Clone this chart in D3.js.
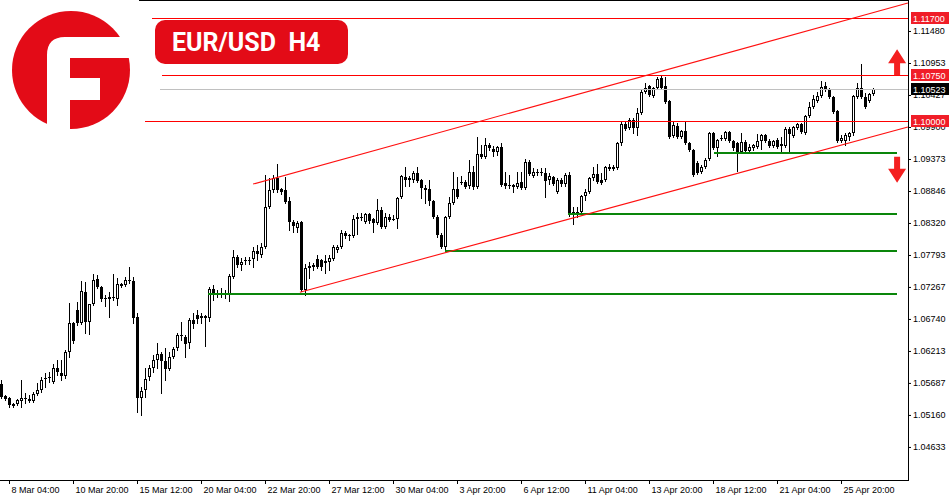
<!DOCTYPE html>
<html>
<head>
<meta charset="utf-8">
<script src="https://cdn.jsdelivr.net/npm/d3@7"></script>
<style>
  body { margin: 0; background: #fff; }
  svg { display: block; }
  .axis text { font-family: "Liberation Sans", Arial, sans-serif; font-size: 9px; fill: #000; }
</style>
</head>
<body>
<div id="chart"></div>
<script>
// EUR/USD H4, one value per bar (8 Mar -> 26 Apr)
var opens = [
  1.0567, 1.0547, 1.0544, 1.0531, 1.0534, 1.0539, 1.0542, 1.0542, 1.0539, 1.0551,
  1.0557, 1.0577, 1.0577, 1.0570, 1.0593, 1.0585, 1.0580, 1.0620, 1.0667, 1.0689,
  1.0667, 1.0718, 1.0669, 1.0699, 1.0740, 1.0727, 1.0707, 1.0707, 1.0710, 1.0707,
  1.0732, 1.0730, 1.0736, 1.0736, 1.0677, 1.0544, 1.0557, 1.0578, 1.0593, 1.0606,
  1.0616, 1.0605, 1.0592, 1.0611, 1.0626, 1.0648, 1.0644, 1.0634, 1.0672, 1.0681,
  1.0676, 1.0679, 1.0676, 1.0723, 1.0715, 1.0717, 1.0715, 1.0713, 1.0743, 1.0776,
  1.0763, 1.0769, 1.0771, 1.0773, 1.0786, 1.0779, 1.0792, 1.0858, 1.0886, 1.0906,
  1.0888, 1.0886, 1.0868, 1.0834, 1.0824, 1.0834, 1.0722, 1.0758, 1.0763, 1.0773,
  1.0771, 1.0766, 1.0768, 1.0773, 1.0787, 1.0792, 1.0815, 1.0811, 1.0811, 1.0839,
  1.0842, 1.0834, 1.0847, 1.0839, 1.0832, 1.0853, 1.0825, 1.0842, 1.0839, 1.0839,
  1.0875, 1.0908, 1.0906, 1.0903, 1.0914, 1.0903, 1.0889, 1.0888, 1.0868, 1.0842,
  1.0812, 1.0792, 1.0842, 1.0865, 1.0888, 1.0898, 1.0899, 1.0893, 1.0916, 1.0891,
  1.0946, 1.0941, 1.0960, 1.0954, 1.0949, 1.0957, 1.0898, 1.0893, 1.0894, 1.0891,
  1.0899, 1.0889, 1.0932, 1.0909, 1.0914, 1.0916, 1.0914, 1.0903, 1.0908, 1.0883,
  1.0903, 1.0896, 1.0911, 1.0850, 1.0847, 1.0850, 1.0876, 1.0883, 1.0906, 1.0913,
  1.0903, 1.0903, 1.0924, 1.0921, 1.0922, 1.0964, 1.0995, 1.0988, 1.1001, 1.0988,
  1.1013, 1.1048, 1.1057, 1.1041, 1.1054, 1.1071, 1.1057, 1.1033, 1.0975, 1.0992,
  1.0973, 1.0983, 1.0964, 1.0952, 1.0931, 1.0916, 1.0924, 1.0937, 1.0980, 1.0955,
  1.0970, 1.0970, 1.0982, 1.0967, 1.0964, 1.0949, 1.0965, 1.0950, 1.0955, 1.0957,
  1.0967, 1.0977, 1.0967, 1.0959, 1.0969, 1.0959, 1.0959, 1.0987, 1.0975, 1.0988,
  1.0995, 1.0980, 1.1008, 1.1023, 1.1033, 1.1041, 1.1057, 1.1053, 1.1039, 1.1016,
  1.0967, 1.0967, 1.0973, 1.0980, 1.1039, 1.1054, 1.1039, 1.1033, 1.1044
];
var highs = [
  1.0574, 1.0549, 1.0546, 1.0536, 1.0542, 1.0574, 1.0552, 1.0549, 1.0554, 1.0569,
  1.0578, 1.0585, 1.0587, 1.0600, 1.0606, 1.0606, 1.0623, 1.0700, 1.0669, 1.0702,
  1.0736, 1.0735, 1.0699, 1.0748, 1.0746, 1.0728, 1.0713, 1.0718, 1.0748, 1.0741,
  1.0733, 1.0743, 1.0759, 1.0743, 1.0684, 1.0562, 1.0593, 1.0598, 1.0615, 1.0634,
  1.0620, 1.0626, 1.0620, 1.0628, 1.0651, 1.0669, 1.0648, 1.0676, 1.0684, 1.0689,
  1.0684, 1.0681, 1.0727, 1.0730, 1.0722, 1.0725, 1.0722, 1.0748, 1.0787, 1.0779,
  1.0774, 1.0776, 1.0776, 1.0792, 1.0796, 1.0799, 1.0911, 1.0906, 1.0911, 1.0929,
  1.0889, 1.0908, 1.0875, 1.0837, 1.0835, 1.0835, 1.0764, 1.0768, 1.0766, 1.0779,
  1.0773, 1.0779, 1.0779, 1.0796, 1.0796, 1.0820, 1.0819, 1.0814, 1.0845, 1.0848,
  1.0848, 1.0848, 1.0848, 1.0840, 1.0871, 1.0858, 1.0848, 1.0847, 1.0845, 1.0875,
  1.0911, 1.0924, 1.0909, 1.0918, 1.0924, 1.0904, 1.0894, 1.0903, 1.0870, 1.0845,
  1.0815, 1.0843, 1.0875, 1.0916, 1.0908, 1.0909, 1.0903, 1.0936, 1.0926, 1.0973,
  1.0960, 1.0972, 1.0964, 1.0959, 1.0959, 1.0964, 1.0916, 1.0911, 1.0896, 1.0916,
  1.0916, 1.0937, 1.0936, 1.0922, 1.0921, 1.0922, 1.0922, 1.0914, 1.0909, 1.0906,
  1.0906, 1.0914, 1.0916, 1.0858, 1.0858, 1.0878, 1.0888, 1.0908, 1.0924, 1.0929,
  1.0914, 1.0926, 1.0929, 1.0927, 1.0965, 1.0998, 1.0998, 1.1005, 1.1005, 1.1021,
  1.1053, 1.1062, 1.1059, 1.1056, 1.1072, 1.1074, 1.1072, 1.1034, 1.0998, 1.0997,
  1.0985, 1.0998, 1.0965, 1.0954, 1.0934, 1.0927, 1.0939, 1.0982, 1.0982, 1.0970,
  1.0977, 1.0983, 1.0983, 1.0969, 1.0965, 1.0980, 1.0969, 1.0962, 1.0962, 1.0978,
  1.0978, 1.0978, 1.0970, 1.0969, 1.0972, 1.0973, 1.0990, 1.0990, 1.0992, 1.0997,
  1.0997, 1.1010, 1.1031, 1.1043, 1.1048, 1.1066, 1.1064, 1.1054, 1.1041, 1.1018,
  1.0977, 1.0980, 1.0982, 1.1043, 1.1062, 1.1094, 1.1046, 1.1046, 1.1054
];
var lows = [
  1.0544, 1.0541, 1.0529, 1.0529, 1.0532, 1.0529, 1.0536, 1.0537, 1.0537, 1.0549,
  1.0554, 1.0562, 1.0570, 1.0569, 1.0582, 1.0574, 1.0577, 1.0611, 1.0634, 1.0664,
  1.0666, 1.0651, 1.0649, 1.0697, 1.0725, 1.0704, 1.0695, 1.0677, 1.0705, 1.0697,
  1.0727, 1.0728, 1.0733, 1.0667, 1.0521, 1.0516, 1.0546, 1.0574, 1.0587, 1.0593,
  1.0552, 1.0574, 1.0590, 1.0610, 1.0623, 1.0639, 1.0611, 1.0626, 1.0659, 1.0667,
  1.0667, 1.0629, 1.0671, 1.0705, 1.0710, 1.0710, 1.0708, 1.0704, 1.0741, 1.0759,
  1.0755, 1.0764, 1.0764, 1.0759, 1.0771, 1.0776, 1.0791, 1.0857, 1.0883, 1.0883,
  1.0880, 1.0865, 1.0820, 1.0817, 1.0817, 1.0720, 1.0713, 1.0741, 1.0755, 1.0758,
  1.0755, 1.0750, 1.0755, 1.0771, 1.0784, 1.0791, 1.0807, 1.0804, 1.0809, 1.0814,
  1.0837, 1.0832, 1.0832, 1.0817, 1.0830, 1.0824, 1.0824, 1.0835, 1.0837, 1.0824,
  1.0873, 1.0893, 1.0893, 1.0899, 1.0899, 1.0873, 1.0865, 1.0862, 1.0840, 1.0809,
  1.0791, 1.0786, 1.0840, 1.0863, 1.0873, 1.0896, 1.0889, 1.0889, 1.0888, 1.0889,
  1.0939, 1.0939, 1.0952, 1.0942, 1.0944, 1.0893, 1.0889, 1.0889, 1.0883, 1.0889,
  1.0888, 1.0888, 1.0911, 1.0908, 1.0911, 1.0911, 1.0875, 1.0896, 1.0894, 1.0881,
  1.0893, 1.0893, 1.0843, 1.0830, 1.0842, 1.0847, 1.0870, 1.0881, 1.0903, 1.0898,
  1.0896, 1.0901, 1.0919, 1.0919, 1.0921, 1.0960, 1.0985, 1.0987, 1.0980, 1.0977,
  1.1011, 1.1046, 1.1041, 1.1039, 1.1053, 1.1053, 1.1029, 1.0972, 1.0973, 1.0972,
  1.0972, 1.0962, 1.0950, 1.0909, 1.0913, 1.0914, 1.0922, 1.0936, 1.0954, 1.0942,
  1.0969, 1.0969, 1.0965, 1.0952, 1.0918, 1.0947, 1.0949, 1.0949, 1.0952, 1.0955,
  1.0954, 1.0965, 1.0957, 1.0957, 1.0955, 1.0947, 1.0957, 1.0947, 1.0973, 1.0987,
  1.0980, 1.0978, 1.1006, 1.1021, 1.1031, 1.1039, 1.1049, 1.1038, 1.1013, 1.0965,
  1.0965, 1.0960, 1.0969, 1.0977, 1.1038, 1.1038, 1.1021, 1.1031, 1.1043
];
var closes = [
  1.0546, 1.0542, 1.0532, 1.0534, 1.0541, 1.0544, 1.0544, 1.0539, 1.0551, 1.0557,
  1.0574, 1.0575, 1.0578, 1.0593, 1.0587, 1.0580, 1.0620, 1.0667, 1.0638, 1.0667,
  1.0720, 1.0669, 1.0699, 1.0738, 1.0727, 1.0707, 1.0708, 1.0710, 1.0708, 1.0732,
  1.0728, 1.0738, 1.0738, 1.0676, 1.0544, 1.0555, 1.0575, 1.0593, 1.0606, 1.0616,
  1.0605, 1.0592, 1.0611, 1.0625, 1.0648, 1.0646, 1.0633, 1.0672, 1.0666, 1.0674,
  1.0679, 1.0676, 1.0723, 1.0715, 1.0717, 1.0715, 1.0717, 1.0745, 1.0776, 1.0763,
  1.0768, 1.0771, 1.0769, 1.0786, 1.0781, 1.0792, 1.0858, 1.0886, 1.0906, 1.0886,
  1.0883, 1.0866, 1.0834, 1.0827, 1.0832, 1.0722, 1.0758, 1.0761, 1.0759, 1.0759,
  1.0759, 1.0769, 1.0774, 1.0792, 1.0792, 1.0815, 1.0811, 1.0812, 1.0839, 1.0842,
  1.0840, 1.0847, 1.0835, 1.0832, 1.0853, 1.0825, 1.0842, 1.0837, 1.0839, 1.0873,
  1.0909, 1.0903, 1.0903, 1.0914, 1.0901, 1.0889, 1.0886, 1.0868, 1.0842, 1.0812,
  1.0792, 1.0842, 1.0865, 1.0888, 1.0875, 1.0899, 1.0891, 1.0916, 1.0891, 1.0946,
  1.0941, 1.0960, 1.0955, 1.0949, 1.0957, 1.0894, 1.0893, 1.0894, 1.0891, 1.0898,
  1.0889, 1.0932, 1.0913, 1.0916, 1.0916, 1.0914, 1.0901, 1.0909, 1.0896, 1.0903,
  1.0896, 1.0911, 1.0847, 1.0847, 1.0850, 1.0876, 1.0883, 1.0906, 1.0913, 1.0899,
  1.0898, 1.0924, 1.0921, 1.0924, 1.0964, 1.0995, 1.0987, 1.1001, 1.0988, 1.1013,
  1.1048, 1.1054, 1.1043, 1.1054, 1.1069, 1.1054, 1.1031, 1.0973, 1.0993, 1.0973,
  1.0983, 1.0964, 1.0952, 1.0911, 1.0914, 1.0924, 1.0936, 1.0980, 1.0955, 1.0969,
  1.0972, 1.0982, 1.0967, 1.0955, 1.0949, 1.0965, 1.0950, 1.0957, 1.0960, 1.0967,
  1.0977, 1.0967, 1.0959, 1.0967, 1.0957, 1.0962, 1.0987, 1.0978, 1.0990, 1.0995,
  1.0982, 1.1008, 1.1023, 1.1036, 1.1041, 1.1056, 1.1051, 1.1039, 1.1015, 1.0967,
  1.0972, 1.0977, 1.0980, 1.1041, 1.1054, 1.1039, 1.1023, 1.1044, 1.1052
];

var yTicks = [1.11480, 1.10953, 1.10427, 1.09900, 1.09373, 1.08846, 1.08320,
              1.07793, 1.07267, 1.06740, 1.06213, 1.05687, 1.05160, 1.04633];
var timeTickBars = [2, 18, 34, 50, 66, 82, 98, 114, 130, 146, 162, 178, 194, 210];
var timeTickLabels = ["8 Mar 04:00", "10 Mar 20:00", "15 Mar 12:00", "20 Mar 04:00",
  "22 Mar 20:00", "27 Mar 12:00", "30 Mar 04:00", "3 Apr 20:00", "6 Apr 12:00",
  "11 Apr 04:00", "13 Apr 20:00", "18 Apr 12:00", "21 Apr 04:00", "25 Apr 20:00"];

// horizontal levels (price, first bar)
var levelPrices = [1.11700, 1.10750, 1.10000];
var levelStartBars = [37.6, 40.1, 35.9];
var lastPrice = 1.10523;
var lastPriceStartBar = 39.6;
var supportPrices = [1.0947, 1.0846, 1.0786, 1.0715];
var supportStartBars = [178.1, 141.6, 110.9, 51.6];
var supportEndBar = 223.9;
// channel lines [bar, price]
var channelUpper = [[62.9, 1.0896], [226.6, 1.1194]];
var channelLower = [[74.6, 1.0718], [226.6, 1.0990]];
// arrows [from price, to price]
var arrowBar = 223.9;
var arrowUp = [1.1075, 1.1118];
var arrowDown = [1.0941, 1.0898];

var RED = "#e30b17";
var AXIS_X = 908, AXIS_Y = 480;

var svg = d3.select("#chart").append("svg")
    .attr("width", 950)
    .attr("height", 500);

var x = d3.scaleLinear().domain([0, 218]).range([1.5, 873.5]);
var y = d3.scaleLinear().domain([1.04089, 1.11990]).range([AXIS_Y, 0]);

var n = Math.min(opens.length, highs.length, lows.length, closes.length);
var bars = d3.range(n).map(function(i) {
    return {i: i, o: opens[i], h: highs[i], l: lows[i], c: closes[i]};
});

// candles
var candles = svg.append("g").attr("shape-rendering", "crispEdges");
candles.selectAll("g").data(bars).enter().append("g").each(function(d) {
    var g = d3.select(this);
    var cx = x(d.i);
    var yo = Math.round(y(d.o)), yc = Math.round(y(d.c));
    var top = Math.min(yo, yc), bot = Math.max(yo, yc);
    g.append("line")
        .attr("x1", cx).attr("x2", cx)
        .attr("y1", Math.round(y(d.h))).attr("y2", Math.round(y(d.l)) + 1)
        .attr("stroke", "#000");
    if (d.c >= d.o) {
        if (bot - top >= 2) {
            g.append("rect")
                .attr("x", cx - 1).attr("y", top + 0.5)
                .attr("width", 2).attr("height", bot - top - 1)
                .attr("fill", "#fff").attr("stroke", "#000");
        } else {
            g.append("rect")
                .attr("x", cx - 1.5).attr("y", top)
                .attr("width", 3).attr("height", 1)
                .attr("fill", "#000");
        }
    } else {
        g.append("rect")
            .attr("x", cx - 1.5).attr("y", top)
            .attr("width", 3).attr("height", Math.max(bot - top, 1))
            .attr("fill", "#000");
    }
});

var hLines = svg.append("g").attr("shape-rendering", "crispEdges");

// current price line
hLines.append("line")
    .attr("x1", x(lastPriceStartBar)).attr("x2", AXIS_X)
    .attr("y1", Math.round(y(lastPrice)) + 0.5).attr("y2", Math.round(y(lastPrice)) + 0.5)
    .attr("stroke", "#c0c0c0");

// red levels
levelPrices.forEach(function(p, i) {
    var yy = Math.round(y(p)) + 0.5;
    hLines.append("line")
        .attr("x1", x(levelStartBars[i])).attr("x2", AXIS_X)
        .attr("y1", yy).attr("y2", yy)
        .attr("stroke", "#ff0000");
});

// green supports
supportPrices.forEach(function(p, i) {
    var yy = Math.round(y(p));
    hLines.append("line")
        .attr("x1", x(supportStartBars[i])).attr("x2", x(supportEndBar))
        .attr("y1", yy).attr("y2", yy)
        .attr("stroke", "#0a860a").attr("stroke-width", 2);
});

// channel
[channelUpper, channelLower].forEach(function(c) {
    svg.append("line")
        .attr("x1", x(c[0][0])).attr("y1", y(c[0][1]))
        .attr("x2", x(c[1][0])).attr("y2", y(c[1][1]))
        .attr("stroke", "#ff1010").attr("stroke-width", 1.1);
});

// arrows
function arrowPoints(from, to) {
    var cx = x(arrowBar), y0 = y(from), y1 = y(to);
    var dir = y1 < y0 ? 1 : -1, hb = y1 + dir * 14;
    return [[cx - 3, y0], [cx - 3, hb], [cx - 9, hb], [cx, y1],
            [cx + 9, hb], [cx + 3, hb], [cx + 3, y0]];
}
[arrowUp, arrowDown].forEach(function(a) {
    svg.append("polygon")
        .attr("points", arrowPoints(a[0], a[1]).map(function(p) { return p.join(","); }).join(" "))
        .attr("fill", "#f42020");
});

// axes
var yAxis = d3.axisRight(y)
    .tickValues(yTicks)
    .tickSize(3)
    .tickSizeOuter(0)
    .tickPadding(2)
    .tickFormat(d3.format(".5f"));
svg.append("g")
    .attr("class", "axis")
    .attr("transform", "translate(" + AXIS_X + ",0)")
    .call(yAxis);

var xAxis = d3.axisBottom(x)
    .tickValues(timeTickBars)
    .tickSize(4)
    .tickSizeOuter(0)
    .offset(0)
    .tickFormat(function(d, i) { return timeTickLabels[i]; });
var gx = svg.append("g")
    .attr("class", "axis")
    .attr("transform", "translate(0," + AXIS_Y + ")")
    .call(xAxis);
gx.select(".domain").remove();
gx.selectAll("text").attr("text-anchor", "start").attr("x", 2);

// frame
svg.append("line").attr("x1", 0).attr("x2", AXIS_X + 1)
    .attr("y1", AXIS_Y + 0.5).attr("y2", AXIS_Y + 0.5).attr("stroke", "#000");
svg.append("line").attr("x1", 139).attr("x2", AXIS_X + 1)
    .attr("y1", 0.5).attr("y2", 0.5).attr("stroke", "#000");

// price tags (drawn over the axis labels they cover, as in the terminal)
var tags = levelPrices.map(function(p) { return [p, "#f01e28"]; });
tags.push([lastPrice, "#000"]);
tags.forEach(function(t) {
    var yy = Math.round(y(t[0]));
    svg.append("rect")
        .attr("x", AXIS_X + 3).attr("y", yy - 6)
        .attr("width", 38).attr("height", 12)
        .attr("fill", t[1]);
    svg.append("text")
        .attr("x", AXIS_X + 5).attr("y", yy + 3.5)
        .attr("fill", "#fff")
        .style("font-family", "'Liberation Sans', Arial, sans-serif")
        .style("font-size", "9px")
        .text(d3.format(".5f")(t[0]));
});

// logo
var logo = svg.append("g");
logo.append("circle").attr("cx", 71).attr("cy", 70).attr("r", 59).attr("fill", RED);
logo.append("path")
    .attr("d", "M47,132 L47,55 Q47,37 65,37 L135,37 L135,58 L70,58 L70,132 Z")
    .attr("fill", "#fff");
logo.append("rect").attr("x", 70).attr("y", 78).attr("width", 30).attr("height", 22).attr("fill", "#fff");

// title badge
svg.append("rect")
    .attr("x", 155).attr("y", 20).attr("width", 193).attr("height", 44)
    .attr("rx", 10).attr("fill", RED);
svg.append("text")
    .attr("x", 172).attr("y", 51)
    .attr("fill", "#fff")
    .style("font-family", "Roboto, 'Liberation Sans', Arial, sans-serif")
    .style("font-weight", "bold")
    .style("font-size", "25px")
    .style("white-space", "pre")
    .text("EUR/USD  H4");
</script>
</body>
</html>
